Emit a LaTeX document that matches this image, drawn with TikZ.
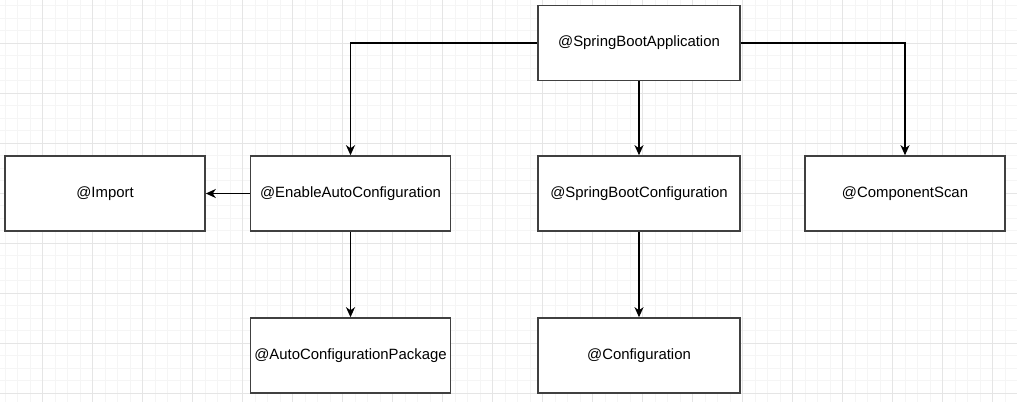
\documentclass[tikz,border=0pt]{standalone}
\usepackage{fontspec}
\setmainfont{Liberation Sans}
\usetikzlibrary{arrows.meta}
\begin{document}
\begin{tikzpicture}[x=1pt,y=-1pt,
  box/.style={draw=black!75,line width=1.6pt,fill=white,rectangle,minimum width=200pt,minimum height=75pt,inner sep=0pt,font=\fontsize{14.9pt}{17pt}\selectfont},
  conn/.style={draw=black,line width=1.3pt,-{Stealth[length=10pt,width=9pt,inset=3pt]}},
  minorgrid/.style={draw=black!4,line width=0.8pt},
  majorgrid/.style={draw=black!10,line width=1pt}]
\fill[white] (0,0) rectangle (1017,402);
\useasboundingbox (0,0) rectangle (1017,402);
\foreach \x in {5,17.5,...,1017} \draw[minorgrid] (\x,0) -- (\x,402);
\foreach \y in {5.8,18.3,...,402} \draw[minorgrid] (0,\y) -- (1017,\y);
\foreach \x in {42.5,92.5,...,1017} \draw[majorgrid] (\x,0) -- (\x,402);
\foreach \y in {43.3,93.3,...,402} \draw[majorgrid] (0,\y) -- (1017,\y);
\node[box,minimum width=202pt] (sba) at (639,43) {@SpringBootApplication};
\node[box] (imp) at (105,193.5) {@Import};
\node[box] (eac) at (350.5,193.5) {@EnableAutoConfiguration};
\node[box,minimum width=202pt] (sbc) at (639,193.5) {@SpringBootConfiguration};
\node[box] (cs) at (905,193.5) {@ComponentScan};
\node[box] (acp) at (350.5,355.5) {@AutoConfigurationPackage};
\node[box,minimum width=202pt] (cfg) at (639,355.5) {@Configuration};
\draw[conn] (sba.west) -| (eac.north);
\draw[conn] (sba.east) -| (cs.north);
\draw[conn] (sba.south) -- (sbc.north);
\draw[conn] (eac.west) -- (imp.east);
\draw[conn] (eac.south) -- (acp.north);
\draw[conn] (sbc.south) -- (cfg.north);
\end{tikzpicture}
\end{document}
